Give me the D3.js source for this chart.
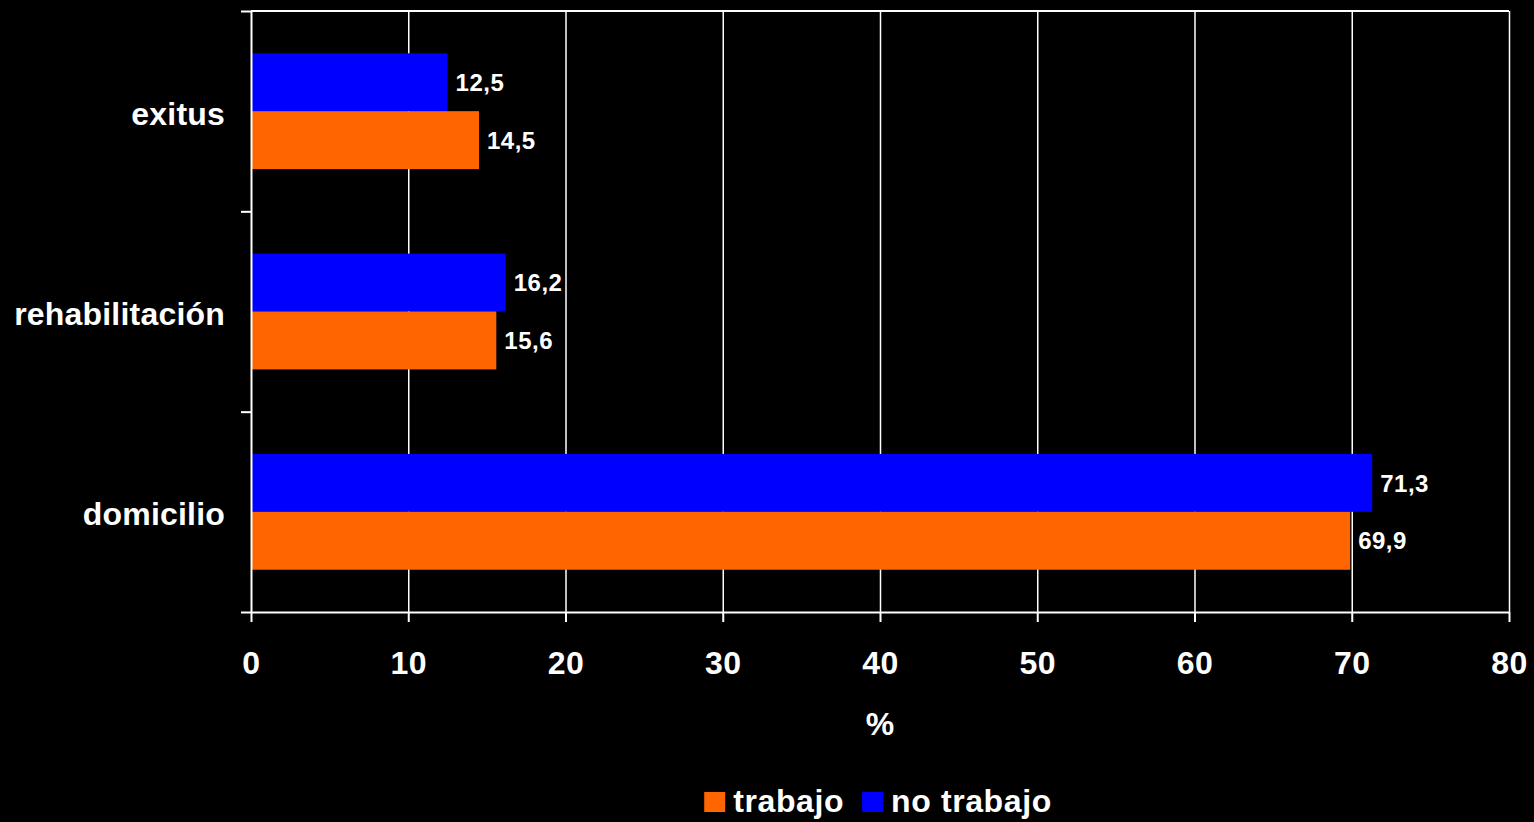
<!DOCTYPE html>
<html>
<head>
<meta charset="utf-8">
<script src="https://cdn.jsdelivr.net/npm/d3@7"></script>
<style>
  html, body { margin: 0; padding: 0; background: #000; }
  svg { display: block; }
  text { font-family: "Liberation Sans", Arial, sans-serif; font-weight: bold; fill: #fff; }
</style>
</head>
<body>
<div id="chart"></div>
<script>
"use strict";
// chart data
const categories = ["exitus", "rehabilitación", "domicilio"];
const seriesNames = ["no trabajo", "trabajo"];   // top bar first inside each group
const noTrabajo = [12.5, 16.2, 71.3];
const trabajo = [14.5, 15.6, 69.9];
const xTicks = [0, 10, 20, 30, 40, 50, 60, 70, 80];
const legendNames = ["trabajo", "no trabajo"];
const colors = { "trabajo": "#ff6600", "no trabajo": "#0000ff" };

(function() {
    const width = 1534, height = 822;
    const plot = { left: 251, right: 1509, top: 11, bottom: 612 };

    const svg = d3.select("#chart")
        .append("svg")
            .attr("width", width)
            .attr("height", height);

    const xScale = d3.scaleLinear()
        .domain([0, 80])
        .range([plot.left, plot.right]);

    const yScale = d3.scaleBand()
        .domain(categories)
        .range([plot.top, plot.bottom])
        .padding(0);

    const inner = d3.scaleBand()
        .domain(seriesNames)
        .range([0, yScale.bandwidth()])
        .paddingInner(0)
        .paddingOuter(0.73);

    // vertical grid lines
    svg.append("g")
        .attr("transform", "translate(0," + plot.top + ")")
        .call(d3.axisBottom(xScale).tickValues(xTicks.slice(1)).tickSize(plot.bottom - plot.top).tickFormat(""))
        .call(g => g.select(".domain").remove())
        .call(g => g.selectAll("line").attr("stroke", "#fff").attr("stroke-width", 1.5));

    // top border
    svg.append("line")
        .attr("x1", plot.left).attr("x2", plot.right)
        .attr("y1", plot.top).attr("y2", plot.top)
        .attr("stroke", "#fff").attr("stroke-width", 2);

    // bars
    const rows = categories.map((c, i) => ({ cat: c, values: { "no trabajo": noTrabajo[i], "trabajo": trabajo[i] } }));

    const groups = svg.selectAll(".group")
        .data(rows)
        .enter()
        .append("g")
            .attr("transform", d => "translate(0," + yScale(d.cat) + ")");

    groups.selectAll("rect")
        .data(d => seriesNames.map(s => ({ s: s, v: d.values[s] })))
        .enter()
        .append("rect")
            .attr("x", xScale(0))
            .attr("y", d => inner(d.s))
            .attr("width", d => xScale(d.v) - xScale(0))
            .attr("height", inner.bandwidth())
            .attr("fill", d => colors[d.s]);

    groups.selectAll(".lbl")
        .data(d => seriesNames.map(s => ({ s: s, v: d.values[s] })))
        .enter()
        .append("text")
            .attr("class", "lbl")
            .attr("x", d => xScale(d.v) + 8)
            .attr("y", d => inner(d.s) + inner.bandwidth() / 2)
            .attr("dy", "0.36em")
            .style("font-size", "24px")
            .style("letter-spacing", "0.5px")
            .text(d => d.v.toFixed(1).replace(".", ","));

    // x axis
    const xAxis = svg.append("g")
        .attr("transform", "translate(0," + plot.bottom + ")")
        .call(d3.axisBottom(xScale).tickValues(xTicks).tickSize(10).tickPadding(29).tickSizeOuter(0));
    xAxis.select(".domain").attr("stroke", "#fff").attr("stroke-width", 2);
    xAxis.selectAll("line").attr("stroke", "#fff").attr("stroke-width", 2);
    xAxis.selectAll("text")
        .attr("fill", "#fff")
        .style("font-size", "32px")
        .style("letter-spacing", "0.5px")
        .style("font-family", "'Liberation Sans', Arial, sans-serif")
        .style("font-weight", "bold");

    // y axis: ticks sit on the band edges
    const yEdge = d3.scaleLinear().domain([0, categories.length]).range([plot.top, plot.bottom]);
    const yAxis = svg.append("g")
        .attr("transform", "translate(" + plot.left + ",0)")
        .call(d3.axisLeft(yEdge).tickValues(d3.range(categories.length + 1)).tickSize(10).tickFormat("").tickSizeOuter(0));
    yAxis.select(".domain").attr("stroke", "#fff").attr("stroke-width", 2);
    yAxis.selectAll("line").attr("stroke", "#fff").attr("stroke-width", 2);

    svg.selectAll(".cat")
        .data(categories)
        .enter()
        .append("text")
            .attr("class", "cat")
            .attr("x", 225)
            .attr("y", d => yScale(d) + yScale.bandwidth() / 2 + 2)
            .attr("dy", "0.36em")
            .attr("text-anchor", "end")
            .style("font-size", "32px")
            .style("letter-spacing", "0.2px")
            .text(d => d);

    // axis title
    svg.append("text")
        .attr("x", (plot.left + plot.right) / 2)
        .attr("y", 735)
        .attr("text-anchor", "middle")
        .style("font-size", "32px")
        .text("%");

    // legend
    const legend = svg.append("g");
    let lx = 0;
    legendNames.forEach(name => {
        legend.append("rect")
            .attr("x", lx).attr("y", -20)
            .attr("width", 21).attr("height", 20)
            .attr("fill", colors[name]);
        const t = legend.append("text")
            .attr("x", lx + 29)
            .attr("y", 0)
            .style("font-size", "32px")
            .style("letter-spacing", "0.6px")
            .text(name);
        lx += 29 + t.node().getComputedTextLength() + 18;
    });
    const legendWidth = lx - 18;
    legend.attr("transform", "translate(" + (878 - legendWidth / 2) + ",812)");
})();
</script>
</body>
</html>
